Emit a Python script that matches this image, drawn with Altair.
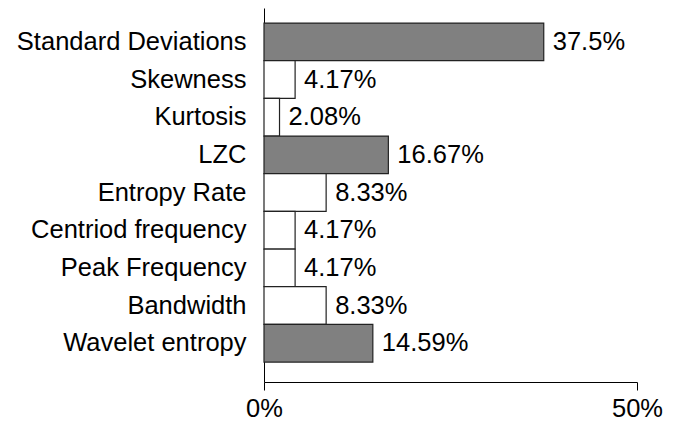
import altair as alt
import pandas as pd

features = ["Standard Deviations", "Skewness", "Kurtosis", "LZC", "Entropy Rate",
            "Centriod frequency", "Peak Frequency", "Bandwidth", "Wavelet entropy"]
values = [37.5, 4.17, 2.08, 16.67, 8.33, 4.17, 4.17, 8.33, 14.59]
labels = ["37.5%", "4.17%", "2.08%", "16.67%", "8.33%", "4.17%", "4.17%", "8.33%", "14.59%"]
highlight = ["yes", "no", "no", "yes", "no", "no", "no", "no", "yes"]
x_ticks = [0, 50]

df = pd.DataFrame({"feature": features, "value": values, "label": labels, "hl": highlight})

FONT = "Liberation Sans"
FS = 25.5

y = alt.Y("feature:N", sort=features, title=None,
          scale=alt.Scale(paddingInner=0, paddingOuter=0.4646, align=0.43),
          axis=alt.Axis(ticks=False, labelFontSize=FS, labelFont=FONT, labelColor="black",
                        labelPadding=18, domainColor="black", domainWidth=1, labelLimit=400))
x = alt.X("value:Q", title=None, scale=alt.Scale(domain=[0, 50], nice=False),
          axis=alt.Axis(values=x_ticks, labelExpr="datum.value + '%'", grid=False,
                        tickSize=8, tickColor="black", domainColor="black",
                        labelFontSize=FS, labelFont=FONT, labelColor="black",
                        labelPadding=6, labelFlush=False))

bars = alt.Chart(df).mark_bar(stroke="#222222", strokeWidth=1.2).encode(
    y=y, x=x,
    color=alt.Color("hl:N", scale=alt.Scale(domain=["yes", "no"], range=["#808080", "#ffffff"]), legend=None),
)
text = alt.Chart(df).mark_text(align="left", baseline="middle", dx=9, fontSize=FS,
                               font=FONT, color="black").encode(
    y=alt.Y("feature:N", sort=features), x="value:Q", text="label:N")

chart = (bars + text).properties(
    width=373, height=374,
    padding={"left": 8, "top": 0, "right": 0, "bottom": 0},
).configure(background="white").configure_view(stroke=None)

chart.save("out.html", embed_options={"renderer": "svg", "actions": False})
